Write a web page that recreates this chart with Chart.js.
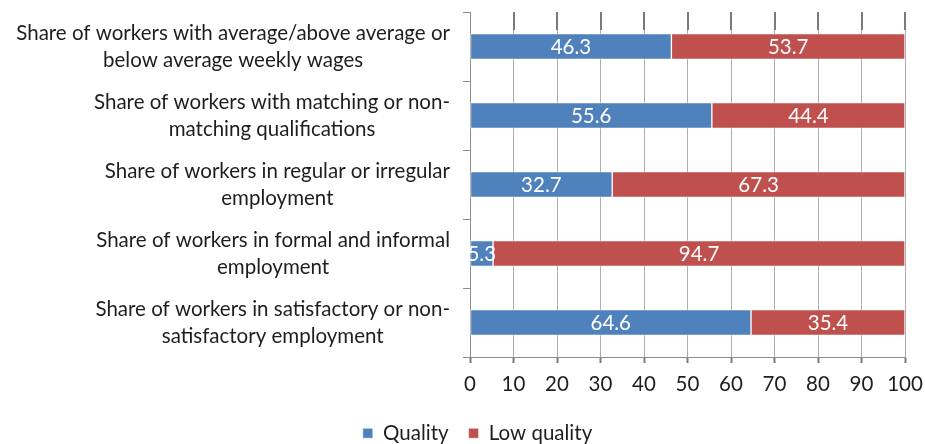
<!DOCTYPE html>
<html>
<head>
<meta charset="utf-8">
<script src="https://cdn.jsdelivr.net/npm/chart.js@4/dist/chart.umd.min.js"></script>
<style>
  html, body { margin: 0; padding: 0; background: #ffffff; }
  #wrap { width: 925px; height: 444px; position: relative; }
</style>
</head>
<body>
<div id="wrap"><canvas id="jobChart"></canvas></div>
<script>
// Job quality indicators: share of workers (%) in quality vs low-quality jobs
const categories = [
    ['Share of workers with average/above average or', 'below average weekly wages'],
    ['Share of workers with matching or non-', 'matching qualifications'],
    ['Share of workers in regular or irregular', 'employment'],
    ['Share of workers in formal and informal', 'employment'],
    ['Share of workers in satisfactory or non-', 'satisfactory employment']
];
const qualityValues = [46.3, 55.6, 32.7, 5.3, 64.6];
const lowQualityValues = [53.7, 44.4, 67.3, 94.7, 35.4];
const xTickValues = [0, 10, 20, 30, 40, 50, 60, 70, 80, 90, 100];

const FONT = 'Lato, Carlito, "Open Sans", sans-serif';
const FONT_SIZE = 20.5;
const blue = '#4f81bd';
const red = '#c0504d';

// Category labels: each block centred on itself, right edge next to the axis
const categoryLabels = {
    id: 'categoryLabels',
    afterDraw(chart) {
        const ctx = chart.ctx;
        const y = chart.scales.y;
        const rightEdge = chart.chartArea.left - 20;
        const lineH = 27;
        ctx.save();
        ctx.font = FONT_SIZE + 'px ' + FONT;
        ctx.fillStyle = '#1e1e1e';
        ctx.textAlign = 'center';
        ctx.textBaseline = 'middle';
        categories.forEach((lines, i) => {
            const cy = y.getPixelForValue(i);
            const w = Math.max(...lines.map(l => ctx.measureText(l).width));
            const cx = rightEdge - w / 2;
            const top = cy - (lines.length - 1) * lineH / 2;
            lines.forEach((l, j) => ctx.fillText(l, cx, top + j * lineH));
        });
        ctx.restore();
    }
};

// Darker tick marks at the top of every vertical gridline
const topMarks = {
    id: 'topMarks',
    beforeDatasetsDraw(chart) {
        const ctx = chart.ctx;
        const x = chart.scales.x;
        const area = chart.chartArea;
        ctx.save();
        ctx.strokeStyle = '#7a7a7a';
        ctx.lineWidth = 2;
        xTickValues.slice(1).forEach(v => {
            const px = Math.round(x.getPixelForValue(v));
            ctx.beginPath();
            ctx.moveTo(px, area.top);
            ctx.lineTo(px, area.top + 18);
            ctx.stroke();
        });
        ctx.restore();
    }
};

// White value labels in the middle of each segment
const valueLabels = {
    id: 'valueLabels',
    afterDatasetsDraw(chart) {
        const ctx = chart.ctx;
        const area = chart.chartArea;
        ctx.save();
        ctx.beginPath();
        ctx.rect(area.left, area.top, area.right - area.left, area.bottom - area.top);
        ctx.clip();
        ctx.font = FONT_SIZE + 'px ' + FONT;
        ctx.fillStyle = '#ffffff';
        ctx.textAlign = 'center';
        ctx.textBaseline = 'middle';
        chart.data.datasets.forEach((ds, di) => {
            const meta = chart.getDatasetMeta(di);
            meta.data.forEach((bar, i) => {
                const cx = (bar.x + bar.base) / 2;
                ctx.fillText(ds.data[i].toFixed(1), cx, bar.y + 1);
            });
        });
        ctx.restore();
    }
};

const ctx = document.getElementById('jobChart').getContext('2d');
new Chart(ctx, {
    type: 'bar',
    data: {
        labels: categories,
        datasets: [{
            label: 'Quality',
            data: qualityValues,
            backgroundColor: blue,
            borderColor: 'rgba(255,255,255,0.55)',
            borderWidth: 1,
            borderSkipped: false,
            barThickness: 26
        }, {
            label: 'Low quality',
            data: lowQualityValues,
            backgroundColor: red,
            borderColor: 'rgba(255,255,255,0.55)',
            borderWidth: 1,
            borderSkipped: false,
            barThickness: 26
        }]
    },
    options: {
        indexAxis: 'y',
        responsive: true,
        maintainAspectRatio: false,
        animation: false,
        layout: {
            padding: { top: 12, right: 20, bottom: -9.5, left: 50 }
        },
        plugins: {
            legend: {
                position: 'bottom',
                labels: {
                    font: { family: FONT, size: FONT_SIZE },
                    color: '#1e1e1e',
                    boxWidth: 10,
                    boxHeight: 10,
                    padding: 20
                }
            },
            tooltip: { enabled: false }
        },
        scales: {
            x: {
                stacked: true,
                min: 0,
                max: 100,
                afterFit: s => { s.height = 46; s.paddingLeft = 0; s.paddingRight = 0; },
                afterBuildTicks: s => { s.ticks = xTickValues.map(v => ({ value: v })); },
                ticks: {
                    font: { family: FONT, size: FONT_SIZE },
                    color: '#1e1e1e',
                    padding: 9
                },
                grid: {
                    color: '#adadad',
                    lineWidth: 1,
                    tickLength: 6,
                    tickColor: '#7a7a7a',
                    tickWidth: 2
                },
                border: { color: '#8c8c8c', width: 1 }
            },
            y: {
                stacked: true,
                afterFit: s => { s.width = 420; },
                ticks: { display: false },
                grid: {
                    drawOnChartArea: false,
                    offset: true,
                    tickLength: 7,
                    color: '#8c8c8c'
                },
                border: { color: '#8c8c8c', width: 1 }
            }
        }
    },
    plugins: [categoryLabels, topMarks, valueLabels]
});
</script>
</body>
</html>
